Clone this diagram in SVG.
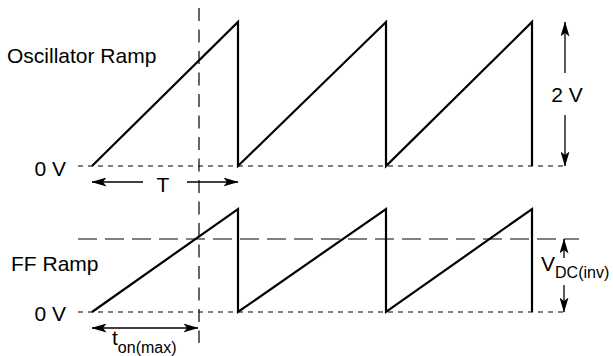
<svg xmlns="http://www.w3.org/2000/svg" width="613" height="356" viewBox="0 0 613 356">
<defs>
<marker id="ah" viewBox="0 0 15 9" markerWidth="15" markerHeight="9" refX="14.5" refY="4.5" orient="auto-start-reverse" markerUnits="userSpaceOnUse">
<path d="M0,0 L15,4.5 L0,9 L3.5,4.5 Z" fill="#000"/>
</marker>
<style>
.ramp{fill:none;stroke:#000;stroke-width:2.2;stroke-linejoin:miter}
.dot{stroke:#000;stroke-width:1.2;stroke-dasharray:5 5;fill:none}
.dashv{stroke:#000;stroke-width:1.2;stroke-dasharray:13 8.5;fill:none}
.dashh{stroke:#000;stroke-width:1.2;stroke-dasharray:19 8;fill:none}
.arr{stroke:#000;stroke-width:1.3;fill:none}
.ar{marker-end:url(#ah)}
.lbl{font-family:"Liberation Sans",Arial,Helvetica,sans-serif;font-size:21px;fill:#000}
.sub{font-size:16px}
</style>
</defs>
<rect width="613" height="356" fill="#fff"/>
<g id="guides">
<line class="dot" x1="78" y1="166" x2="568" y2="166"/>
<line class="dot" x1="78" y1="312" x2="568" y2="312"/>
<line class="dashh" x1="78" y1="239" x2="579" y2="239"/>
<line class="dashv" x1="199" y1="8" x2="199" y2="343"/>
</g>
<g id="oscillator-ramp">
<polyline class="ramp" points="92,166 238,22 238,166 386,22 386,166 532,22 532,166"/>
</g>
<g id="ff-ramp">
<polyline class="ramp" points="92,312 238,209 238,312 386,209 386,312 532,209 532,312"/>
</g>
<g id="connectors">
<line class="arr ar" x1="143" y1="182" x2="92" y2="182"/>
<line class="arr ar" x1="187" y1="182" x2="238" y2="182"/>
<line class="arr ar" x1="565" y1="73" x2="565" y2="22"/>
<line class="arr ar" x1="565" y1="115" x2="565" y2="166"/>
<line class="arr ar" x1="564" y1="258" x2="564" y2="239"/>
<line class="arr ar" x1="564" y1="285" x2="564" y2="312"/>
<line class="arr ar" x1="145" y1="328" x2="92" y2="328"/>
<line class="arr ar" x1="145" y1="328" x2="198" y2="328"/>
</g>
<g id="labels">
<text class="lbl" x="7" y="63">Oscillator Ramp</text>
<text class="lbl" x="66" y="176" text-anchor="end">0 V</text>
<text class="lbl" x="163" y="192" text-anchor="middle">T</text>
<text class="lbl" x="567" y="102" text-anchor="middle">2 V</text>
<text class="lbl" x="11" y="271">FF Ramp</text>
<text class="lbl" x="66" y="321" text-anchor="end">0 V</text>
<text class="lbl" x="541" y="271">V<tspan class="sub" dy="7">DC(inv)</tspan></text>
<text class="lbl" x="112" y="345">t<tspan class="sub" dy="8">on(max)</tspan></text>
</g>
</svg>
